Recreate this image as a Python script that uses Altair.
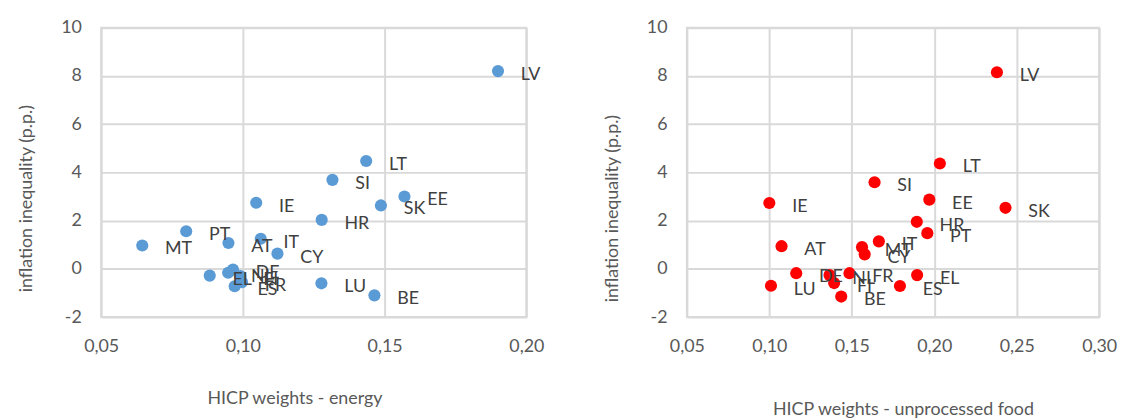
import altair as alt
import pandas as pd

# Left panel: HICP weights - energy
energy_countries = ["LV", "LT", "SI", "EE", "SK", "IE", "HR", "PT", "MT", "AT",
                    "IT", "CY", "EL", "NL", "DE", "FI", "FR", "ES", "LU", "BE"]
energy_weight = [0.190, 0.1435, 0.1316, 0.157, 0.1487, 0.1047, 0.1278, 0.080, 0.0645, 0.0949,
                 0.1063, 0.1122, 0.0883, 0.0948, 0.0965, 0.0991, 0.0997, 0.0971, 0.1277, 0.1464]
energy_ineq = [8.2, 4.47, 3.69, 3.0, 2.63, 2.74, 2.03, 1.56, 0.97, 1.07,
               1.25, 0.63, -0.28, -0.16, -0.03, -0.30, -0.55, -0.72, -0.6, -1.1]

# Right panel: HICP weights - unprocessed food
food_countries = ["LV", "LT", "SI", "IE", "EE", "SK", "HR", "PT", "AT", "IT",
                  "MT", "CY", "LU", "DE", "NL", "FI", "BE", "FR", "ES", "EL"]
food_weight = [0.238, 0.2034, 0.1638, 0.100, 0.197, 0.2432, 0.1894, 0.1958, 0.1074, 0.1664,
               0.1562, 0.1578, 0.101, 0.1163, 0.1365, 0.1393, 0.1436, 0.1486, 0.1792, 0.1896]
food_ineq = [8.15, 4.37, 3.59, 2.73, 2.87, 2.53, 1.95, 1.48, 0.94, 1.14,
             0.90, 0.60, -0.70, -0.18, -0.26, -0.59, -1.15, -0.18, -0.71, -0.26]

energy_ticks = [0.05, 0.10, 0.15, 0.20]
food_ticks = [0.05, 0.10, 0.15, 0.20, 0.25, 0.30]
y_ticks = [-2, 0, 2, 4, 6, 8, 10]

FONT = "Lato"
GRID = "#D9D9D9"
TXT = "#595959"


def panel(countries, weights, ineq, ticks, color, xtitle, width, xtitle_x, xtitle_pad, ytitle_y):
    df = pd.DataFrame({"country": countries, "w": weights, "ineq": ineq})
    x = alt.X("w:Q",
              scale=alt.Scale(domain=[ticks[0], ticks[-1]], nice=False, zero=False),
              axis=alt.Axis(values=ticks, title=xtitle, labelFlush=False, labelPadding=21,
                            labelExpr="replace(format(datum.value, '.2f'), '.', ',')",
                            titleX=xtitle_x, titlePadding=xtitle_pad))
    y = alt.Y("ineq:Q",
              scale=alt.Scale(domain=[-2, 10], nice=False),
              axis=alt.Axis(values=y_ticks, title="inflation inequality (p.p.)",
                            labelExpr="toString(datum.value)", labelPadding=20,
                            titleY=ytitle_y, titlePadding=25))
    base = alt.Chart(df)
    pts = base.mark_circle(size=150, opacity=1, color=color).encode(x=x, y=y)
    lbl = base.mark_text(align="left", baseline="middle", dx=23, dy=4,
                         font=FONT, fontSize=18, color="#404040").encode(
        x="w:Q", y="ineq:Q", text="country:N")
    return alt.layer(pts, lbl).properties(width=width, height=292)


left = panel(energy_countries, energy_weight, energy_ineq, energy_ticks, "#5B9BD5",
             "HICP weights - energy", 429, 195, 34, 172)
right = panel(food_countries, food_weight, food_ineq, food_ticks, "#FF0000",
              "HICP weights - unprocessed food", 416, 218, 45, 182)

chart = alt.hconcat(left, right, spacing=58).configure(
    padding={"left": 9, "top": 8, "right": 0, "bottom": 0}
).configure_view(
    stroke=GRID, strokeWidth=2
).configure_axis(
    grid=True, gridColor=GRID, gridWidth=2, domain=False, ticks=False,
    labelFont=FONT, labelFontSize=18, labelColor=TXT,
    titleFont=FONT, titleFontSize=18, titleColor=TXT, titleFontWeight="normal",
)

chart.save("out.html", embed_options={"renderer": "svg", "actions": False})
